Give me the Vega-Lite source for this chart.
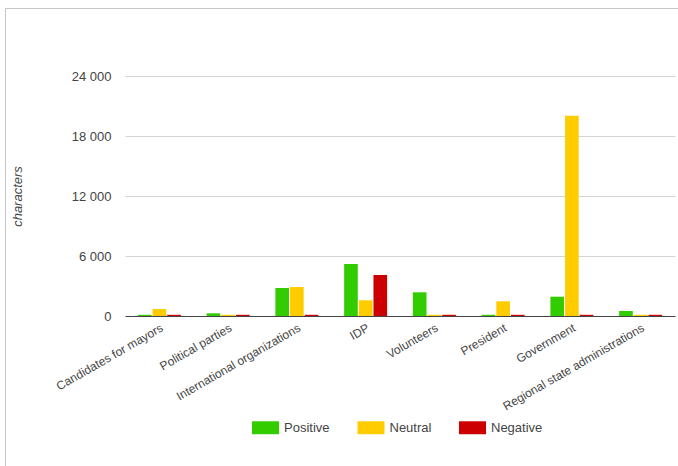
{
  "$schema": "https://vega.github.io/schema/vega-lite/v6.json",
  "width": 550,
  "height": 240,
  "autosize": {"type": "none"},
  "padding": {"left": 125, "top": 76, "right": 3, "bottom": 150},
  "background": "white",
  "config": {
    "font": "Liberation Sans",
    "view": {"stroke": null}
  },
  "layer": [
    {
      "data": {
        "values": [
          {"group": "Candidates for mayors", "sentiment": "Positive", "chars": 120},
          {"group": "Candidates for mayors", "sentiment": "Neutral", "chars": 700},
          {"group": "Candidates for mayors", "sentiment": "Negative", "chars": 120},
          {"group": "Political parties", "sentiment": "Positive", "chars": 270},
          {"group": "Political parties", "sentiment": "Neutral", "chars": 120},
          {"group": "Political parties", "sentiment": "Negative", "chars": 120},
          {"group": "International organizations", "sentiment": "Positive", "chars": 2800},
          {"group": "International organizations", "sentiment": "Neutral", "chars": 2900},
          {"group": "International organizations", "sentiment": "Negative", "chars": 120},
          {"group": "IDP", "sentiment": "Positive", "chars": 5200},
          {"group": "IDP", "sentiment": "Neutral", "chars": 1570},
          {"group": "IDP", "sentiment": "Negative", "chars": 4100},
          {"group": "Volunteers", "sentiment": "Positive", "chars": 2370},
          {"group": "Volunteers", "sentiment": "Neutral", "chars": 120},
          {"group": "Volunteers", "sentiment": "Negative", "chars": 120},
          {"group": "President", "sentiment": "Positive", "chars": 120},
          {"group": "President", "sentiment": "Neutral", "chars": 1470},
          {"group": "President", "sentiment": "Negative", "chars": 120},
          {"group": "Government", "sentiment": "Positive", "chars": 1930},
          {"group": "Government", "sentiment": "Neutral", "chars": 20030},
          {"group": "Government", "sentiment": "Negative", "chars": 120},
          {"group": "Regional state administrations", "sentiment": "Positive", "chars": 500},
          {"group": "Regional state administrations", "sentiment": "Neutral", "chars": 120},
          {"group": "Regional state administrations", "sentiment": "Negative", "chars": 120}
        ]
      },
      "mark": {"type": "bar"},
      "encoding": {
        "x": {
          "field": "group",
          "type": "nominal",
          "sort": null,
          "scale": {"paddingInner": 0.375, "paddingOuter": 0.1875},
          "axis": {
            "title": null,
            "orient": "bottom",
            "ticks": false,
            "domain": true,
            "domainColor": "#444",
            "grid": false,
            "labelAngle": -30,
            "labelPadding": 6,
            "labelFontSize": 12,
            "labelColor": "#444"
          }
        },
        "xOffset": {
          "field": "sentiment",
          "type": "nominal",
          "sort": ["Positive", "Neutral", "Negative"],
          "scale": {"paddingInner": 0.07}
        },
        "y": {
          "field": "chars",
          "type": "quantitative",
          "scale": {"domain": [0, 24000], "nice": false},
          "axis": {
            "values": [0, 6000, 12000, 18000, 24000],
            "labelExpr": "replace(format(datum.value, ','), ',', ' ')",
            "domain": false,
            "ticks": false,
            "grid": true,
            "gridColor": "#d4d4d4",
            "labelPadding": 14,
            "labelFontSize": 13,
            "labelColor": "#444",
            "title": "characters",
            "titleFontStyle": "italic",
            "titleFontWeight": "normal",
            "titleFontSize": 13,
            "titleColor": "#444",
            "titlePadding": 47
          }
        },
        "color": {
          "field": "sentiment",
          "type": "nominal",
          "scale": {
            "domain": ["Positive", "Neutral", "Negative"],
            "range": ["#33cc00", "#ffcc00", "#cc0000"]
          },
          "legend": {
            "title": null,
            "orient": "none",
            "direction": "horizontal",
            "legendX": 127,
            "legendY": 338,
            "symbolType": "M-1,-0.48H1V0.48H-1Z",
            "symbolSize": 729,
            "symbolStrokeWidth": 0,
            "labelFontSize": 13,
            "labelColor": "#444",
            "labelOffset": 5,
            "columnPadding": 27.5
          }
        }
      }
    },
    {
      "data": {"values": [{"edge": 0}]},
      "mark": {"type": "point", "opacity": 0},
      "encoding": {
        "x": {
          "datum": 0,
          "type": "quantitative",
          "scale": {"domain": [0, 1], "range": [-120, 560]},
          "axis": {"orient": "top", "offset": 68, "title": null, "labels": false, "ticks": false, "grid": false, "domainColor": "#c6c6c6"}
        },
        "y": {
          "datum": 0,
          "type": "quantitative",
          "scale": {"domain": [0, 1], "range": [400, -68]},
          "axis": {"orient": "left", "offset": 120, "title": null, "labels": false, "ticks": false, "grid": false, "domainColor": "#c6c6c6"}
        }
      }
    }
  ],
  "resolve": {
    "scale": {"x": "independent", "y": "independent", "color": "independent"},
    "axis": {"x": "independent", "y": "independent"}
  }
}
